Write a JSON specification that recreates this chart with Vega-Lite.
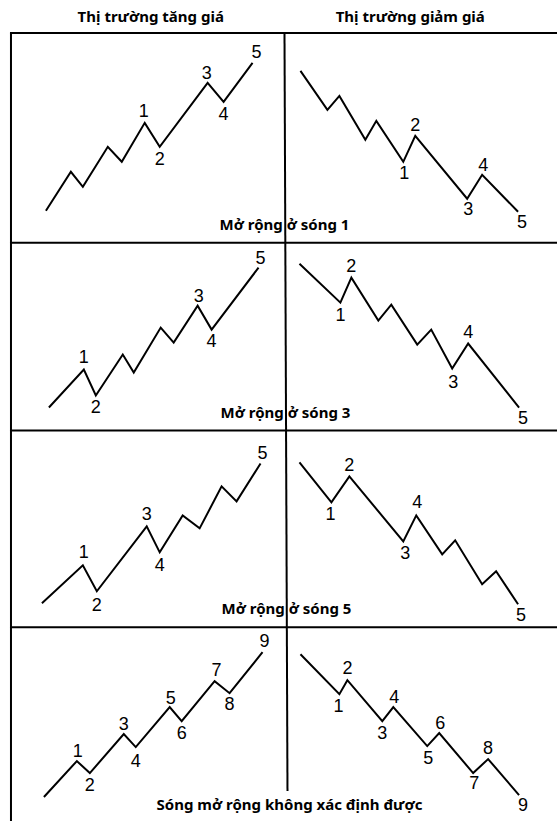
{
  "$schema": "https://vega.github.io/schema/vega-lite/v6.json",
  "width": 558,
  "height": 822,
  "padding": 0,
  "autosize": {"type": "fit", "contains": "padding"},
  "background": "white",
  "config": {"view": {"stroke": null}},
  "datasets": {
    "waves": [
      {"s": "b1", "i": 0, "x": 46, "y": 211}, {"s": "b1", "i": 1, "x": 71, "y": 172}, {"s": "b1", "i": 2, "x": 83, "y": 187}, {"s": "b1", "i": 3, "x": 108, "y": 147}, {"s": "b1", "i": 4, "x": 122, "y": 162}, {"s": "b1", "i": 5, "x": 145, "y": 123}, {"s": "b1", "i": 6, "x": 160, "y": 147}, {"s": "b1", "i": 7, "x": 208, "y": 83}, {"s": "b1", "i": 8, "x": 224, "y": 102}, {"s": "b1", "i": 9, "x": 253, "y": 63},
      {"s": "r1", "i": 0, "x": 301, "y": 71}, {"s": "r1", "i": 1, "x": 328, "y": 110}, {"s": "r1", "i": 2, "x": 340, "y": 96}, {"s": "r1", "i": 3, "x": 366, "y": 140}, {"s": "r1", "i": 4, "x": 377, "y": 121}, {"s": "r1", "i": 5, "x": 404, "y": 162}, {"s": "r1", "i": 6, "x": 416, "y": 136}, {"s": "r1", "i": 7, "x": 468, "y": 199}, {"s": "r1", "i": 8, "x": 483, "y": 175}, {"s": "r1", "i": 9, "x": 519, "y": 212},
      {"s": "b2", "i": 0, "x": 49, "y": 408}, {"s": "b2", "i": 1, "x": 84, "y": 370}, {"s": "b2", "i": 2, "x": 96, "y": 396}, {"s": "b2", "i": 3, "x": 123, "y": 355}, {"s": "b2", "i": 4, "x": 134, "y": 373}, {"s": "b2", "i": 5, "x": 161, "y": 328}, {"s": "b2", "i": 6, "x": 174, "y": 343}, {"s": "b2", "i": 7, "x": 198, "y": 306}, {"s": "b2", "i": 8, "x": 212, "y": 330}, {"s": "b2", "i": 9, "x": 259, "y": 268},
      {"s": "r2", "i": 0, "x": 300, "y": 264}, {"s": "r2", "i": 1, "x": 341, "y": 303}, {"s": "r2", "i": 2, "x": 352, "y": 278}, {"s": "r2", "i": 3, "x": 379, "y": 321}, {"s": "r2", "i": 4, "x": 392, "y": 305}, {"s": "r2", "i": 5, "x": 418, "y": 345}, {"s": "r2", "i": 6, "x": 432, "y": 330}, {"s": "r2", "i": 7, "x": 453, "y": 369}, {"s": "r2", "i": 8, "x": 469, "y": 344}, {"s": "r2", "i": 9, "x": 520, "y": 408},
      {"s": "b3", "i": 0, "x": 42, "y": 604}, {"s": "b3", "i": 1, "x": 83, "y": 566}, {"s": "b3", "i": 2, "x": 97, "y": 592}, {"s": "b3", "i": 3, "x": 147, "y": 527}, {"s": "b3", "i": 4, "x": 160, "y": 553}, {"s": "b3", "i": 5, "x": 183, "y": 516}, {"s": "b3", "i": 6, "x": 200, "y": 529}, {"s": "b3", "i": 7, "x": 222, "y": 487}, {"s": "b3", "i": 8, "x": 237, "y": 502}, {"s": "b3", "i": 9, "x": 261, "y": 464},
      {"s": "r3", "i": 0, "x": 300, "y": 463}, {"s": "r3", "i": 1, "x": 332, "y": 503}, {"s": "r3", "i": 2, "x": 350, "y": 477}, {"s": "r3", "i": 3, "x": 404, "y": 542}, {"s": "r3", "i": 4, "x": 417, "y": 516}, {"s": "r3", "i": 5, "x": 443, "y": 555}, {"s": "r3", "i": 6, "x": 456, "y": 541}, {"s": "r3", "i": 7, "x": 483, "y": 585}, {"s": "r3", "i": 8, "x": 497, "y": 572}, {"s": "r3", "i": 9, "x": 519, "y": 605},
      {"s": "b4", "i": 0, "x": 44, "y": 798}, {"s": "b4", "i": 1, "x": 77, "y": 762}, {"s": "b4", "i": 2, "x": 90, "y": 774}, {"s": "b4", "i": 3, "x": 124, "y": 735}, {"s": "b4", "i": 4, "x": 136, "y": 748}, {"s": "b4", "i": 5, "x": 170, "y": 708}, {"s": "b4", "i": 6, "x": 182, "y": 722}, {"s": "b4", "i": 7, "x": 215, "y": 682}, {"s": "b4", "i": 8, "x": 230, "y": 694}, {"s": "b4", "i": 9, "x": 263, "y": 653},
      {"s": "r4", "i": 0, "x": 301, "y": 655}, {"s": "r4", "i": 1, "x": 340, "y": 695}, {"s": "r4", "i": 2, "x": 348, "y": 681}, {"s": "r4", "i": 3, "x": 383, "y": 722}, {"s": "r4", "i": 4, "x": 394, "y": 708}, {"s": "r4", "i": 5, "x": 428, "y": 747}, {"s": "r4", "i": 6, "x": 440, "y": 734}, {"s": "r4", "i": 7, "x": 474, "y": 774}, {"s": "r4", "i": 8, "x": 489, "y": 760}, {"s": "r4", "i": 9, "x": 520, "y": 796}
    ],
    "numbers": [
      {"t": "1", "x": 144, "y": 112}, {"t": "2", "x": 160, "y": 160}, {"t": "3", "x": 207, "y": 74}, {"t": "4", "x": 224, "y": 115}, {"t": "5", "x": 257, "y": 53},
      {"t": "2", "x": 416, "y": 126}, {"t": "1", "x": 405, "y": 174}, {"t": "3", "x": 469, "y": 210}, {"t": "4", "x": 484, "y": 166}, {"t": "5", "x": 523, "y": 223},
      {"t": "1", "x": 84, "y": 358}, {"t": "2", "x": 96, "y": 408}, {"t": "3", "x": 199, "y": 297}, {"t": "4", "x": 212, "y": 342}, {"t": "5", "x": 261, "y": 259},
      {"t": "2", "x": 352, "y": 267}, {"t": "1", "x": 341, "y": 316}, {"t": "4", "x": 469, "y": 333}, {"t": "3", "x": 454, "y": 383}, {"t": "5", "x": 524, "y": 420},
      {"t": "1", "x": 84, "y": 554}, {"t": "2", "x": 97, "y": 607}, {"t": "3", "x": 147, "y": 516}, {"t": "4", "x": 160, "y": 567}, {"t": "5", "x": 263, "y": 455},
      {"t": "2", "x": 350, "y": 467}, {"t": "1", "x": 331, "y": 516}, {"t": "4", "x": 418, "y": 504}, {"t": "3", "x": 406, "y": 555}, {"t": "5", "x": 522, "y": 617},
      {"t": "1", "x": 78, "y": 753}, {"t": "2", "x": 90, "y": 787}, {"t": "3", "x": 124, "y": 726}, {"t": "4", "x": 136, "y": 763}, {"t": "5", "x": 171, "y": 700}, {"t": "6", "x": 182, "y": 735}, {"t": "7", "x": 217, "y": 672}, {"t": "8", "x": 230, "y": 706}, {"t": "9", "x": 265, "y": 643},
      {"t": "2", "x": 348, "y": 670}, {"t": "1", "x": 339, "y": 708}, {"t": "4", "x": 395, "y": 699}, {"t": "3", "x": 383, "y": 735}, {"t": "6", "x": 441, "y": 725}, {"t": "5", "x": 429, "y": 760}, {"t": "8", "x": 489, "y": 750}, {"t": "7", "x": 475, "y": 785}, {"t": "9", "x": 524, "y": 807}
    ],
    "headers": [
      {"t": "Thị trường tăng giá", "x": 151, "y": 17},
      {"t": "Thị trường giảm giá", "x": 411, "y": 17}
    ],
    "rowlabels": [
      {"t": "Mở rộng ở sóng 1", "x": 285, "y": 225},
      {"t": "Mở rộng ở sóng 3", "x": 286, "y": 414},
      {"t": "Mở rộng ở sóng 5", "x": 287, "y": 610},
      {"t": "Sóng mở rộng không xác định được", "x": 290, "y": 806}
    ],
    "frame": [
      {"x": 10, "y": 33, "x2": 558, "y2": 33},
      {"x": 10, "y": 243, "x2": 558, "y2": 243},
      {"x": 10, "y": 431, "x2": 558, "y2": 431},
      {"x": 10, "y": 628, "x2": 558, "y2": 628},
      {"x": 11, "y": 33, "x2": 11, "y2": 822},
      {"x": 285, "y": 33, "x2": 288, "y2": 792}
    ]
  },
  "layer": [
    {
      "data": {"name": "frame"},
      "mark": {"type": "rule", "color": "black", "strokeWidth": 2},
      "encoding": {
        "x": {"field": "x", "type": "quantitative", "scale": {"domain": [0, 558], "nice": false, "zero": false}, "axis": null},
        "y": {"field": "y", "type": "quantitative", "scale": {"domain": [0, 822], "nice": false, "zero": false, "reverse": true}, "axis": null},
        "x2": {"field": "x2"},
        "y2": {"field": "y2"}
      }
    },
    {
      "data": {"name": "waves"},
      "mark": {"type": "line", "color": "black", "strokeWidth": 2, "strokeJoin": "miter"},
      "encoding": {
        "x": {"field": "x", "type": "quantitative"},
        "y": {"field": "y", "type": "quantitative"},
        "detail": {"field": "s"},
        "order": {"field": "i", "type": "quantitative"}
      }
    },
    {
      "data": {"name": "numbers"},
      "mark": {"type": "text", "font": "Liberation Sans", "fontSize": 18, "color": "black", "align": "center", "baseline": "middle"},
      "encoding": {
        "x": {"field": "x", "type": "quantitative"},
        "y": {"field": "y", "type": "quantitative"},
        "text": {"field": "t"}
      }
    },
    {
      "data": {"name": "headers"},
      "mark": {"type": "text", "font": "Noto Sans", "fontWeight": "bold", "fontSize": 15, "color": "black", "align": "center", "baseline": "middle"},
      "encoding": {
        "x": {"field": "x", "type": "quantitative"},
        "y": {"field": "y", "type": "quantitative"},
        "text": {"field": "t"}
      }
    },
    {
      "data": {"name": "rowlabels"},
      "mark": {"type": "text", "font": "Noto Sans", "fontWeight": "bold", "fontSize": 15, "color": "black", "align": "center", "baseline": "middle"},
      "encoding": {
        "x": {"field": "x", "type": "quantitative"},
        "y": {"field": "y", "type": "quantitative"},
        "text": {"field": "t"}
      }
    }
  ]
}
